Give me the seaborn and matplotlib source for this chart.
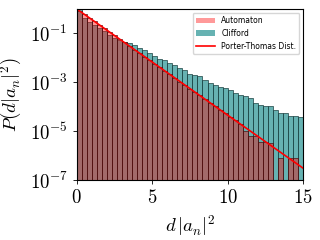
import numpy as np
import pandas as pd
import matplotlib
matplotlib.use("Agg")
import matplotlib.pyplot as plt
import seaborn as sns
from matplotlib.patches import Patch
from matplotlib.lines import Line2D

# ---- data ----
bin_range = (0.0, 15.0)
n_bins = 45
# log10 of histogram density per bin (None = empty bin)
automaton_log = [-0.07, -0.215, -0.36, -0.505, -0.65, -0.79, -0.94, -1.08, -1.23, -1.37,
                 -1.52, -1.66, -1.81, -1.95, -2.10, -2.24, -2.39, -2.53, -2.68, -2.82,
                 -2.97, -3.11, -3.26, -3.40, -3.54, -3.69, -3.83, -3.98, -4.12, -4.27,
                 -4.41, -4.55, -4.70, -5.00, -5.20, -5.20, -5.45, -5.45, -5.50, None,
                 -6.10, None, -6.10, -6.10, None]
clifford_log = [0.10, -0.38, -0.52, -0.66, -0.79, -0.92, -1.05, -1.17, -1.28, -1.35,
                -1.40, -1.49, -1.60, -1.67, -1.81, -1.92, -2.05, -2.08, -2.22, -2.28,
                -2.42, -2.49, -2.65, -2.69, -2.76, -2.90, -3.01, -3.11, -3.20, -3.24,
                -3.31, -3.45, -3.52, -3.58, -3.65, -3.86, -3.93, -3.97, -3.99, -4.13,
                -4.27, -4.27, -4.40, -4.40, -4.42]
pt_x = [0.0, 15.0]
pt_y = [1.0, 3.06e-7]

labels = ["Automaton", "Clifford", "Porter-Thomas Dist."]
xticks = [0, 5, 10, 15]
yticks = [1e-1, 1e-3, 1e-5, 1e-7]

# ---- build table ----
width = (bin_range[1] - bin_range[0]) / n_bins
centers = [bin_range[0] + (i + 0.5) * width for i in range(n_bins)]
def to_val(lst):
    return [0.0 if v is None else 10.0 ** v for v in lst]
df_a = pd.DataFrame({"x": centers, "w": to_val(automaton_log)})
df_c = pd.DataFrame({"x": centers, "w": to_val(clifford_log)})

plt.rcParams["mathtext.fontset"] = "cm"
plt.rcParams["font.family"] = ["cmr10", "DejaVu Sans"]
plt.rcParams["axes.formatter.use_mathtext"] = True

fig = plt.figure(figsize=(3.2, 2.4), dpi=100)
ax = fig.add_axes([0.24, 0.25, 0.707, 0.7125])

col_a = "#ff0000"
col_c = "#008080"
sns.histplot(data=df_c, x="x", weights="w", bins=n_bins, binrange=bin_range, stat="count",
             color=col_c, alpha=0.6, edgecolor="#1a4040", linewidth=0.5, ax=ax)
sns.histplot(data=df_a, x="x", weights="w", bins=n_bins, binrange=bin_range, stat="count",
             color=col_a, alpha=0.4, edgecolor="#4a1010", linewidth=0.5, ax=ax)
sns.lineplot(x=pt_x, y=pt_y, color="red", linewidth=1.2, ax=ax)

ax.set_yscale("log")
ax.set_xlim(0, 15)
ax.set_ylim(1e-7, 1.0)
ax.set_xticks(xticks)
ax.set_yticks(yticks)
ax.yaxis.set_minor_locator(matplotlib.ticker.NullLocator())
ax.tick_params(labelsize=13.5, length=3, width=0.6)
for s in ax.spines.values():
    s.set_linewidth(0.8)
ax.set_xlabel(r"$d\,|a_n|^2$", fontsize=13.5)
ax.set_ylabel(r"$P(d|a_n|^2)$", fontsize=13.5)

handles = [Patch(facecolor=col_a, alpha=0.4, edgecolor="none"),
           Patch(facecolor=col_c, alpha=0.6, edgecolor="none"),
           Line2D([0], [0], color="red", lw=1.2)]
ax.legend(handles, labels, loc="upper right", prop={"family": "DejaVu Sans", "size": 5.5},
          frameon=True, fancybox=True, framealpha=0.8, handlelength=2.5)

fig.savefig("out.png", dpi=100)
